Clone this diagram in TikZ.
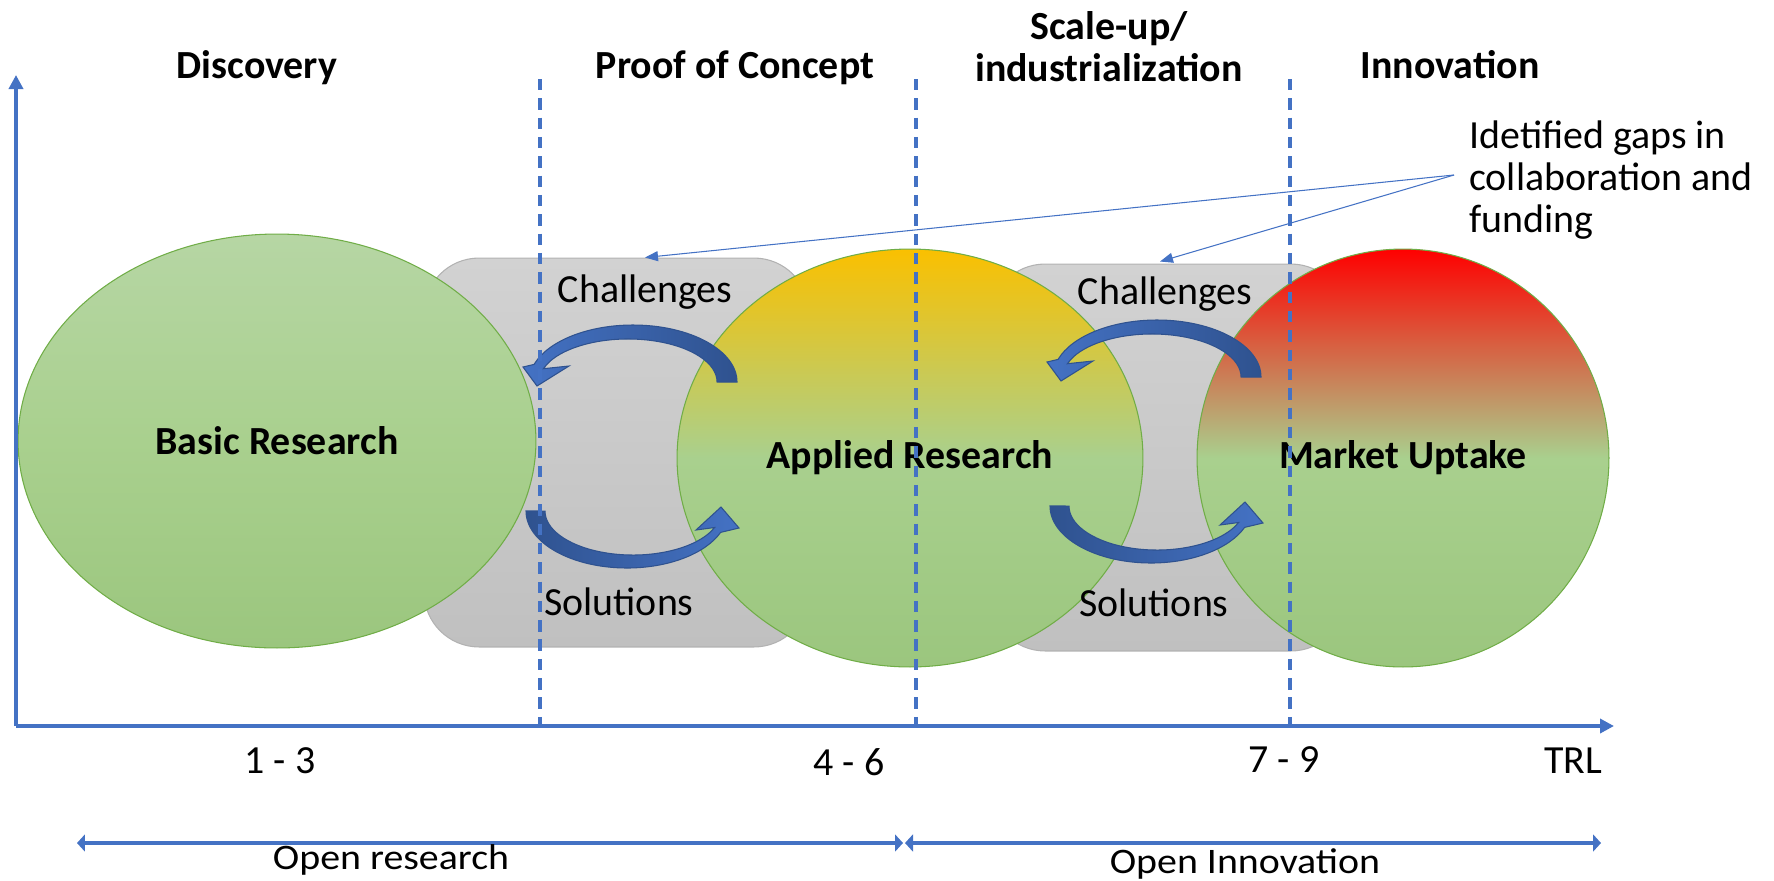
\documentclass[tikz,border=0pt]{standalone}
\usepackage{fontspec}
\setmainfont{Carlito}
\usepackage{xcolor}
\definecolor{axisblue}{RGB}{68,114,196}
\definecolor{arrowdark}{RGB}{47,82,143}
\definecolor{ringgreen}{RGB}{112,173,71}
\definecolor{greentop}{RGB}{182,214,164}
\definecolor{greenmid}{RGB}{169,208,142}
\definecolor{greenlow}{RGB}{155,198,126}
\definecolor{ambertop}{RGB}{250,192,0}
\definecolor{redtop}{RGB}{255,0,0}
\definecolor{graytop}{RGB}{210,210,210}
\definecolor{graylow}{RGB}{192,192,192}
\usepackage{tikz}
\usetikzlibrary{shapes.geometric}
\usetikzlibrary{arrows.meta}
\newcommand{\txtsize}{\fontsize{22.7}{24}\selectfont}
\newcommand{\squashtxt}[1]{\scalebox{1}[0.9]{#1}}
\tikzset{
    note/.style={font=\txtsize, inner sep=0pt},
    stage/.style={note, font=\txtsize\bfseries, anchor=base},
    trl/.style={note, anchor=base},
    phase/.style={draw=ringgreen, line width=0.6pt, ellipse, inner sep=0pt, font=\txtsize\bfseries},
    gapbox/.style={draw=gray!60, line width=0.6pt, rectangle, rounded corners=1.1cm, top color=graytop, bottom color=graylow},
    turnarrow/.style={draw=arrowdark, line width=0.6pt},
    axisline/.style={axisblue, line width=2pt, -{Triangle[length=0.28cm, width=0.28cm]}},
    divider/.style={axisblue, line width=2.6pt, dash pattern=on 6.5pt off 4.5pt},
    callout/.style={axisblue, line width=0.6pt, -{Triangle[length=0.26cm, width=0.2cm]}},
    span/.style={axisblue, line width=2.6pt, {Triangle[length=0.16cm, width=0.34cm]}-{Triangle[length=0.16cm, width=0.34cm]}}
}

\begin{document}
\begin{tikzpicture}[x=0.02cm, y=-0.02cm]
    \useasboundingbox (0,0) rectangle (1774,880);

    % gaps between the phases
    \node[gapbox, minimum width=7.7cm, minimum height=7.78cm] (gap1) at (616.5,452.5) {};
    \node[gapbox, minimum width=7.12cm, minimum height=7.74cm] (gap2) at (1168,457.5) {};

    % phases
    \node[phase, minimum width=10.36cm, minimum height=8.28cm,
        top color=greentop, bottom color=greenlow, middle color=greenmid] (basic) at (277,441) {Basic Research};
    \node[phase, minimum width=9.32cm, minimum height=8.36cm,
        top color=ambertop, bottom color=greenlow, middle color=greenmid] (applied) at (910,458) {Applied Research};
    \node[phase, minimum width=8.24cm, minimum height=8.36cm,
        top color=redtop, bottom color=greenlow, middle color=greenmid] (market) at (1403,458) {Market Uptake};

    % challenge / solution turns
    \foreach \dx/\dy in {0/0, 524/-5}{
        \begin{scope}[shift={(\dx,\dy)}]
            \draw[turnarrow, left color=axisblue, right color=arrowdark]
                (737,382) arc[start angle=0, end angle=-162, x radius=104, y radius=57]
                -- (523,367) -- (537,386) -- (569,366) -- (543.4,368.7)
                arc[start angle=-162, end angle=0, x radius=89, y radius=43] -- cycle;
            \draw[turnarrow, left color=arrowdark, right color=axisblue]
                (526,511) arc[start angle=180, end angle=22, x radius=101, y radius=57]
                -- (739,528) -- (721,507) -- (696,530) -- (714.6,527.5)
                arc[start angle=22, end angle=180, x radius=88, y radius=44] -- cycle;
        \end{scope}
    }

    \node[note] (chal1) at (645,292) {Challenges};
    \node[note] (chal2) at (1165,294) {Challenges};
    \node[note] (sol1) at (619,602) {Solutions};
    \node[note] (sol2) at (1154,603) {Solutions};

    % stages
    \node[stage] (discovery) at (257,78) {Discovery};
    \node[stage] (proof) at (735,78) {Proof of Concept};
    \node[note, font=\txtsize\bfseries, align=center] (scaleup) at (1109,47) {Scale-up/\\industrialization};
    \node[stage] (innovation) at (1450,78) {Innovation};

    % axes and dividers
    \coordinate (origin) at (16,726);
    \coordinate (ytop) at (16,75);
    \coordinate (xend) at (1614,726);
    \draw[axisline] (origin) -- (ytop);
    \draw[axisline] (origin) -- (xend);
    \foreach \xd [count=\i] in {540,916,1290}{
        \coordinate (d\i top) at (\xd,79);
        \coordinate (d\i low) at (\xd,724);
        \draw[divider] (d\i top) -- (d\i low);
    }

    \node[trl] (trl1) at (280,773) {1 - 3};
    \node[trl] (trl2) at (849,775) {4 - 6};
    \node[trl] (trl3) at (1284,772) {7 - 9};
    \node[trl] (trlname) at (1573,773) {TRL};

    % gaps callout
    \node[note, anchor=west, align=left] (gaps) at (1469,180) {Idetified gaps in\\collaboration and\\funding};
    \coordinate (gapsfoot) at ([xshift=-0.3cm, yshift=0.1cm]gaps.west);
    \draw[callout] (gapsfoot) -- ([xshift=0.57cm]gap1.north);
    \draw[callout] (gapsfoot) -- ([xshift=-0.16cm, yshift=0.04cm]gap2.north);

    % open research / open innovation
    \coordinate (or left) at (77,843);
    \coordinate (or right) at (903,843);
    \coordinate (oi left) at (905,843);
    \coordinate (oi right) at (1601,843);
    \draw[span] (or left) -- (or right);
    \draw[span] (oi left) -- (oi right);
    \node[trl] (openres) at (391,869) {\squashtxt{Open research}};
    \node[trl] (openinn) at (1245,873) {\squashtxt{Open Innovation}};
\end{tikzpicture}
\end{document}
